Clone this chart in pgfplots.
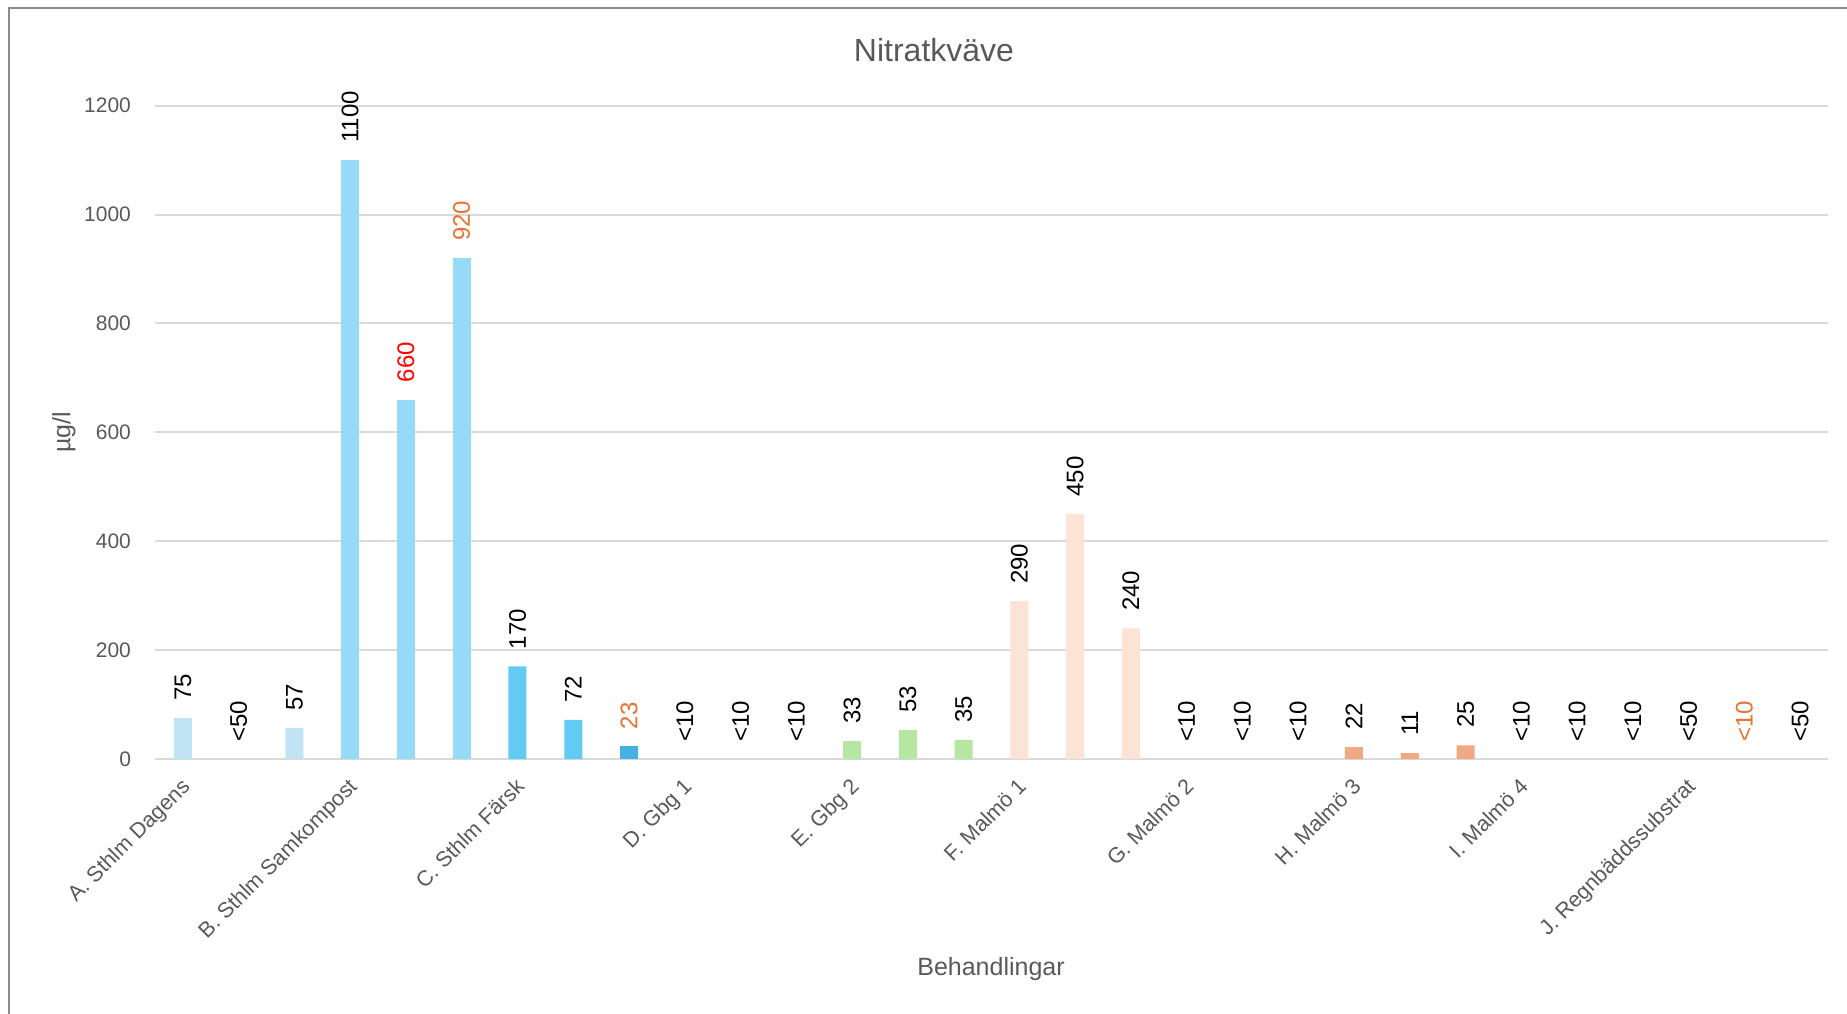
\documentclass[border=0pt]{standalone}
\usepackage{fontspec}
\setmainfont{Liberation Sans}
\usepackage{pgfplots}
\pgfplotsset{compat=1.18}

\definecolor{txt}{HTML}{595959}
\definecolor{gridc}{HTML}{D9D9D9}
\definecolor{framec}{HTML}{8C8C8C}
\definecolor{cA}{HTML}{C1E4F5}
\definecolor{cB}{HTML}{97DAF7}
\definecolor{cC}{HTML}{61CBF3}
\definecolor{cCd}{HTML}{45B0E1}
\definecolor{cE}{HTML}{B5E6A2}
\definecolor{cF}{HTML}{FBE3D6}
\definecolor{cH}{HTML}{F1A983}
\definecolor{lblorange}{HTML}{E97132}
\definecolor{lblred}{HTML}{FF0000}

\begin{document}
\begin{tikzpicture}[x=1pt,y=1pt]
\path[use as bounding box] (0,0) rectangle (923.5,506.5);
% chart frame (left and top edges)
\draw[line width=1pt, framec] (4.5,-1) -- (4.5,502.25) -- (925,502.25);

\begin{axis}[
  at={(77.5pt,127pt)}, anchor=south west,
  scale only axis, width=836.5pt, height=326.65pt,
  xmin=-0.5, xmax=29.5, ymin=0, ymax=1200,
  clip=false,
  axis line style={draw=none},
  major tick length=0pt,
  ytick={0,200,...,1200},
  xtick={0,3,...,27},
  xticklabels={A. Sthlm Dagens, B. Sthlm Samkompost, C. Sthlm Färsk, D. Gbg 1, E. Gbg 2, F. Malmö 1, G. Malmö 2, H. Malmö 3, I. Malmö 4, J. Regnbäddssubstrat},
  ymajorgrids,
  major grid style={line width=1pt, gridc},
  /pgf/number format/assume math mode=true,
  /pgf/number format/1000 sep={},
  yticklabel style={font=\fontsize{10.5}{12}\selectfont, text=txt, xshift=-8.5pt},
  xticklabel style={font=\fontsize{10.8}{12}\selectfont, text=txt, xshift=-1.5pt, yshift=-4pt, rotate=45, anchor=north east},
  ybar, bar width=9pt,
  point meta=explicit symbolic,
  nodes near coords,
  every node near coord/.append style={rotate=90, anchor=west, inner xsep=8.5pt, inner ysep=0pt, font=\fontsize{12}{14}\selectfont, text=black},
]
% A. Sthlm Dagens
\addplot[fill=cA, draw=none, bar shift=0pt] coordinates {(0,75) [75] (2,57) [57]};
% B. Sthlm Samkompost
\addplot[fill=cB, draw=none, bar shift=0pt] coordinates {(3,1100) [1100]};
\addplot[fill=cB, draw=none, bar shift=0pt, every node near coord/.append style={text=lblred}] coordinates {(4,660) [660]};
\addplot[fill=cB, draw=none, bar shift=0pt, every node near coord/.append style={text=lblorange}] coordinates {(5,920) [920]};
% C. Sthlm Färsk
\addplot[fill=cC, draw=none, bar shift=0pt] coordinates {(6,170) [170] (7,72) [72]};
\addplot[fill=cCd, draw=none, bar shift=0pt, every node near coord/.append style={text=lblorange}] coordinates {(8,23) [23]};
% E. Gbg 2
\addplot[fill=cE, draw=none, bar shift=0pt] coordinates {(12,33) [33] (13,53) [53] (14,35) [35]};
% F. Malmö 1
\addplot[fill=cF, draw=none, bar shift=0pt] coordinates {(15,290) [290] (16,450) [450] (17,240) [240]};
% H. Malmö 3
\addplot[fill=cH, draw=none, bar shift=0pt] coordinates {(21,22) [22] (22,11) [11] (23,25) [25]};
% values below the detection limit
\addplot[fill=none, draw=none, bar shift=0pt] coordinates {
  (1,0) [<50] (9,0) [<10] (10,0) [<10] (11,0) [<10]
  (18,0) [<10] (19,0) [<10] (20,0) [<10]
  (24,0) [<10] (25,0) [<10] (26,0) [<10]
  (27,0) [<50] (29,0) [<50]};
\addplot[fill=none, draw=none, bar shift=0pt, every node near coord/.append style={text=lblorange}] coordinates {(28,0) [<10]};
\end{axis}

\node[font=\fontsize{16}{19}\selectfont, text=txt] at (467,481.5) {Nitratkväve};
\node[font=\fontsize{12.5}{15}\selectfont, text=txt] at (495.5,22) {Behandlingar};
\node[font=\fontsize{12.5}{15}\selectfont, text=txt, rotate=90] at (32,290.5) {µg/l};
\end{tikzpicture}
\end{document}
